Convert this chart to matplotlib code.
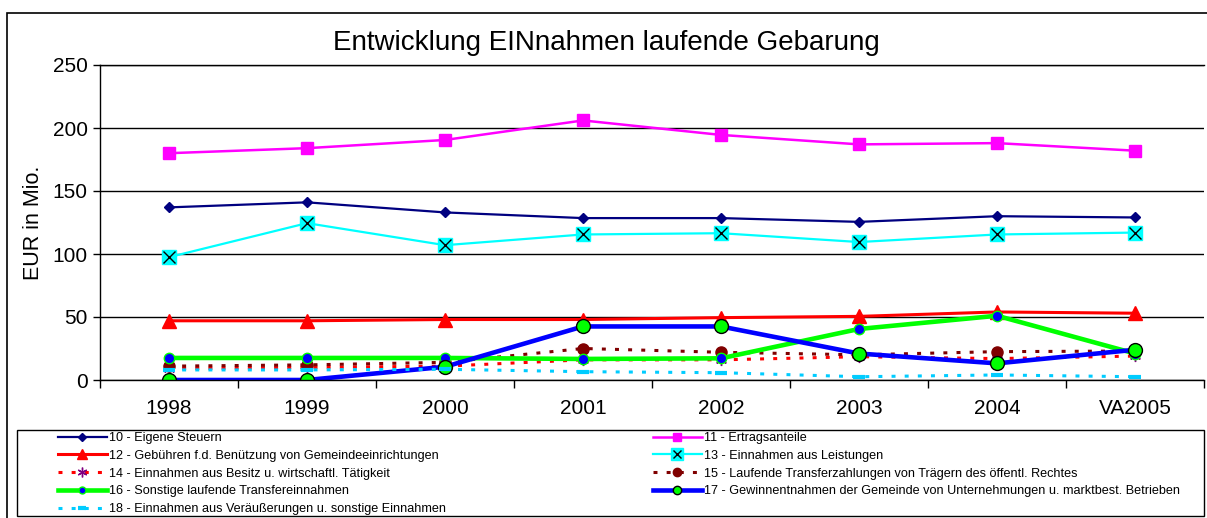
import matplotlib
matplotlib.use("Agg")
import matplotlib.pyplot as plt
from matplotlib import font_manager
from matplotlib.lines import Line2D
from matplotlib.patches import Rectangle
from matplotlib.legend_handler import HandlerTuple

# ─── Data ─────────────────────────────────────────────────────────────────────
years = ["1998", "1999", "2000", "2001", "2002", "2003", "2004", "VA2005"]
s10 = [137, 141, 133, 128.5, 128.5, 125.5, 130, 129]
s11 = [180, 184, 190.5, 206, 194.5, 187, 188, 182]
s12 = [47, 47, 48, 48, 49.5, 50.5, 54, 53]
s13 = [97.5, 124.5, 107, 115.5, 116.5, 109.5, 115.5, 117]
s14 = [9, 10, 11, 16, 16, 18.5, 17, 19]
s15 = [11, 12, 14, 25, 22, 20, 22.5, 23]
s16 = [17.5, 17.5, 17.5, 16.7, 17.2, 40.5, 51, 21]
s17 = [0, 0, 10.5, 42.5, 42.5, 21, 13.2, 24]
s18 = [8, 8, 8.5, 6.6, 5.8, 2.6, 4, 2.6]

labels = [
    "10 - Eigene Steuern",
    "11 - Ertragsanteile",
    "12 - Gebühren f.d. Benützung von Gemeindeeinrichtungen",
    "13 - Einnahmen aus Leistungen",
    "14 - Einnahmen aus Besitz u. wirtschaftl. Tätigkeit",
    "15 - Laufende Transferzahlungen von Trägern des öffentl. Rechtes",
    "16 - Sonstige laufende Transfereinnahmen",
    "17 - Gewinnentnahmen der Gemeinde von Unternehmungen u. marktbest. Betrieben",
    "18 - Einnahmen aus Veräußerungen u. sonstige Einnahmen",
]
title = "Entwicklung EINnahmen laufende Gebarung"
ylabel = "EUR in Mio."

# ─── Fonts ────────────────────────────────────────────────────────────────────
names = {f.name for f in font_manager.fontManager.ttflist}
NARROW = "Liberation Sans Narrow" in names
main_font = ["Liberation Sans", "DejaVu Sans"]
leg_font = ["Liberation Sans Narrow", "DejaVu Sans"] if NARROW else main_font
leg_size = 10.2 if NARROW else 9.1
plt.rcParams["font.family"] = main_font

W, H = 1207, 518
fig = plt.figure(figsize=(W / 100, H / 100), dpi=100)
ax = fig.add_axes([100 / W, 1 - 380 / H, 1104 / W, 315 / H])

x = range(len(years))
dash = (1.3, 3.0)

# line + marker look of each series
styles = {
    "10": dict(color="#000080", lw=1.6, marker="D", mfc="#000080", mec="#000080", mew=1),
    "11": dict(color="#FF00FF", lw=1.8, marker="s", mfc="#FF00FF", mec="#FF00FF", mew=1),
    "12": dict(color="#FF0000", lw=2.2, marker="^", mfc="#FF0000", mec="#FF0000", mew=1),
    "13": dict(color="#00FFFF", lw=1.6, marker="s", mfc="#00FFFF", mec="#00FFFF", mew=1),
    "14": dict(color="#FF0000", lw=2.2, dashes=dash, marker=(6, 2, 0), mec="#800080", mew=1),
    "15": dict(color="#800000", lw=2.2, dashes=dash, marker="o", mfc="#800000", mec="#800000", mew=1),
    "16": dict(color="#00FF00", lw=3.3, marker="o", mfc="#0000FF", mec="#00FF00", mew=1),
    "17": dict(color="#0000FF", lw=3.3, marker="o", mfc="#00FF00", mec="black", mew=1),
    "18": dict(color="#00CCFF", lw=2.2, dashes=dash, marker="_", mew=3),
}
sizes = {"10": 5.5, "11": 8.5, "12": 9.5, "13": 10.5, "14": 8,
         "15": 8, "16": 7.5, "17": 10, "18": 9}
leg_sizes = {"10": 4.5, "11": 6, "12": 6.5, "13": 8, "14": 7,
             "15": 6, "16": 5, "17": 6, "18": 6}

series = [s10, s11, s12, s13, s14, s15, s16, s17, s18]
keys = ["10", "11", "12", "13", "14", "15", "16", "17", "18"]

handles = []
for key, vals in zip(keys, series):
    ax.plot(x, vals, ms=sizes[key], **styles[key])
    h = Line2D([], [], ms=leg_sizes[key], **styles[key])
    if key == "13":
        ax.plot(x, vals, ls="none", color="black", marker="x", ms=8, mew=1)
        hx = Line2D([], [], ls="none", color="black", marker="x", ms=6, mew=1)
        h = (h, hx)
    handles.append(h)

ax.set_xlim(-0.5, len(years) - 0.5)
ax.set_ylim(0, 250)
ax.set_yticks(range(0, 251, 50))
ax.set_xticks(list(x))
ax.set_xticklabels(years)
ax.set_xticks([i - 0.5 for i in range(len(years) + 1)], minor=True)
ax.tick_params(axis="x", which="major", length=0, labelsize=15, pad=14)
ax.tick_params(axis="x", which="minor", length=6, width=1, direction="out")
ax.tick_params(axis="y", length=5, width=1, direction="out", labelsize=15, pad=4)
ax.grid(axis="y", color="black", lw=1)
ax.set_axisbelow(True)
ax.spines["right"].set_visible(False)
for s in ("left", "bottom", "top"):
    ax.spines[s].set_linewidth(1)
ax.set_ylabel(ylabel, fontsize=15.5, labelpad=6)

fig.text(606 / W, 1 - 43 / H, title, ha="center", va="center", fontsize=20)

# ─── Frames ───────────────────────────────────────────────────────────────────
fig.add_artist(Rectangle((7 / W, -0.2), 1.5, 1.2 - 12.5 / H,
                         transform=fig.transFigure, fill=False, lw=1.2, ec="black"))
fig.add_artist(Rectangle((17 / W, 1 - 516 / H), (1204 - 17) / W, 86 / H,
                         transform=fig.transFigure, fill=False, lw=1, ec="black"))

# ─── Legend ───────────────────────────────────────────────────────────────────
leg_kw = dict(loc="upper left", frameon=False, numpoints=1, borderpad=0,
              borderaxespad=0, handlelength=3.85, handletextpad=0.15,
              labelspacing=0.46, prop={"family": leg_font, "size": leg_size},
              handler_map={tuple: HandlerTuple(ndivide=1)})
fig.legend(handles[0::2], labels[0::2],
           bbox_to_anchor=(58 / W, 1 - 432 / H), **leg_kw)
fig.legend(handles[1::2], labels[1::2],
           bbox_to_anchor=(653 / W, 1 - 432 / H), **leg_kw)

fig.savefig("out.png", dpi=100)
